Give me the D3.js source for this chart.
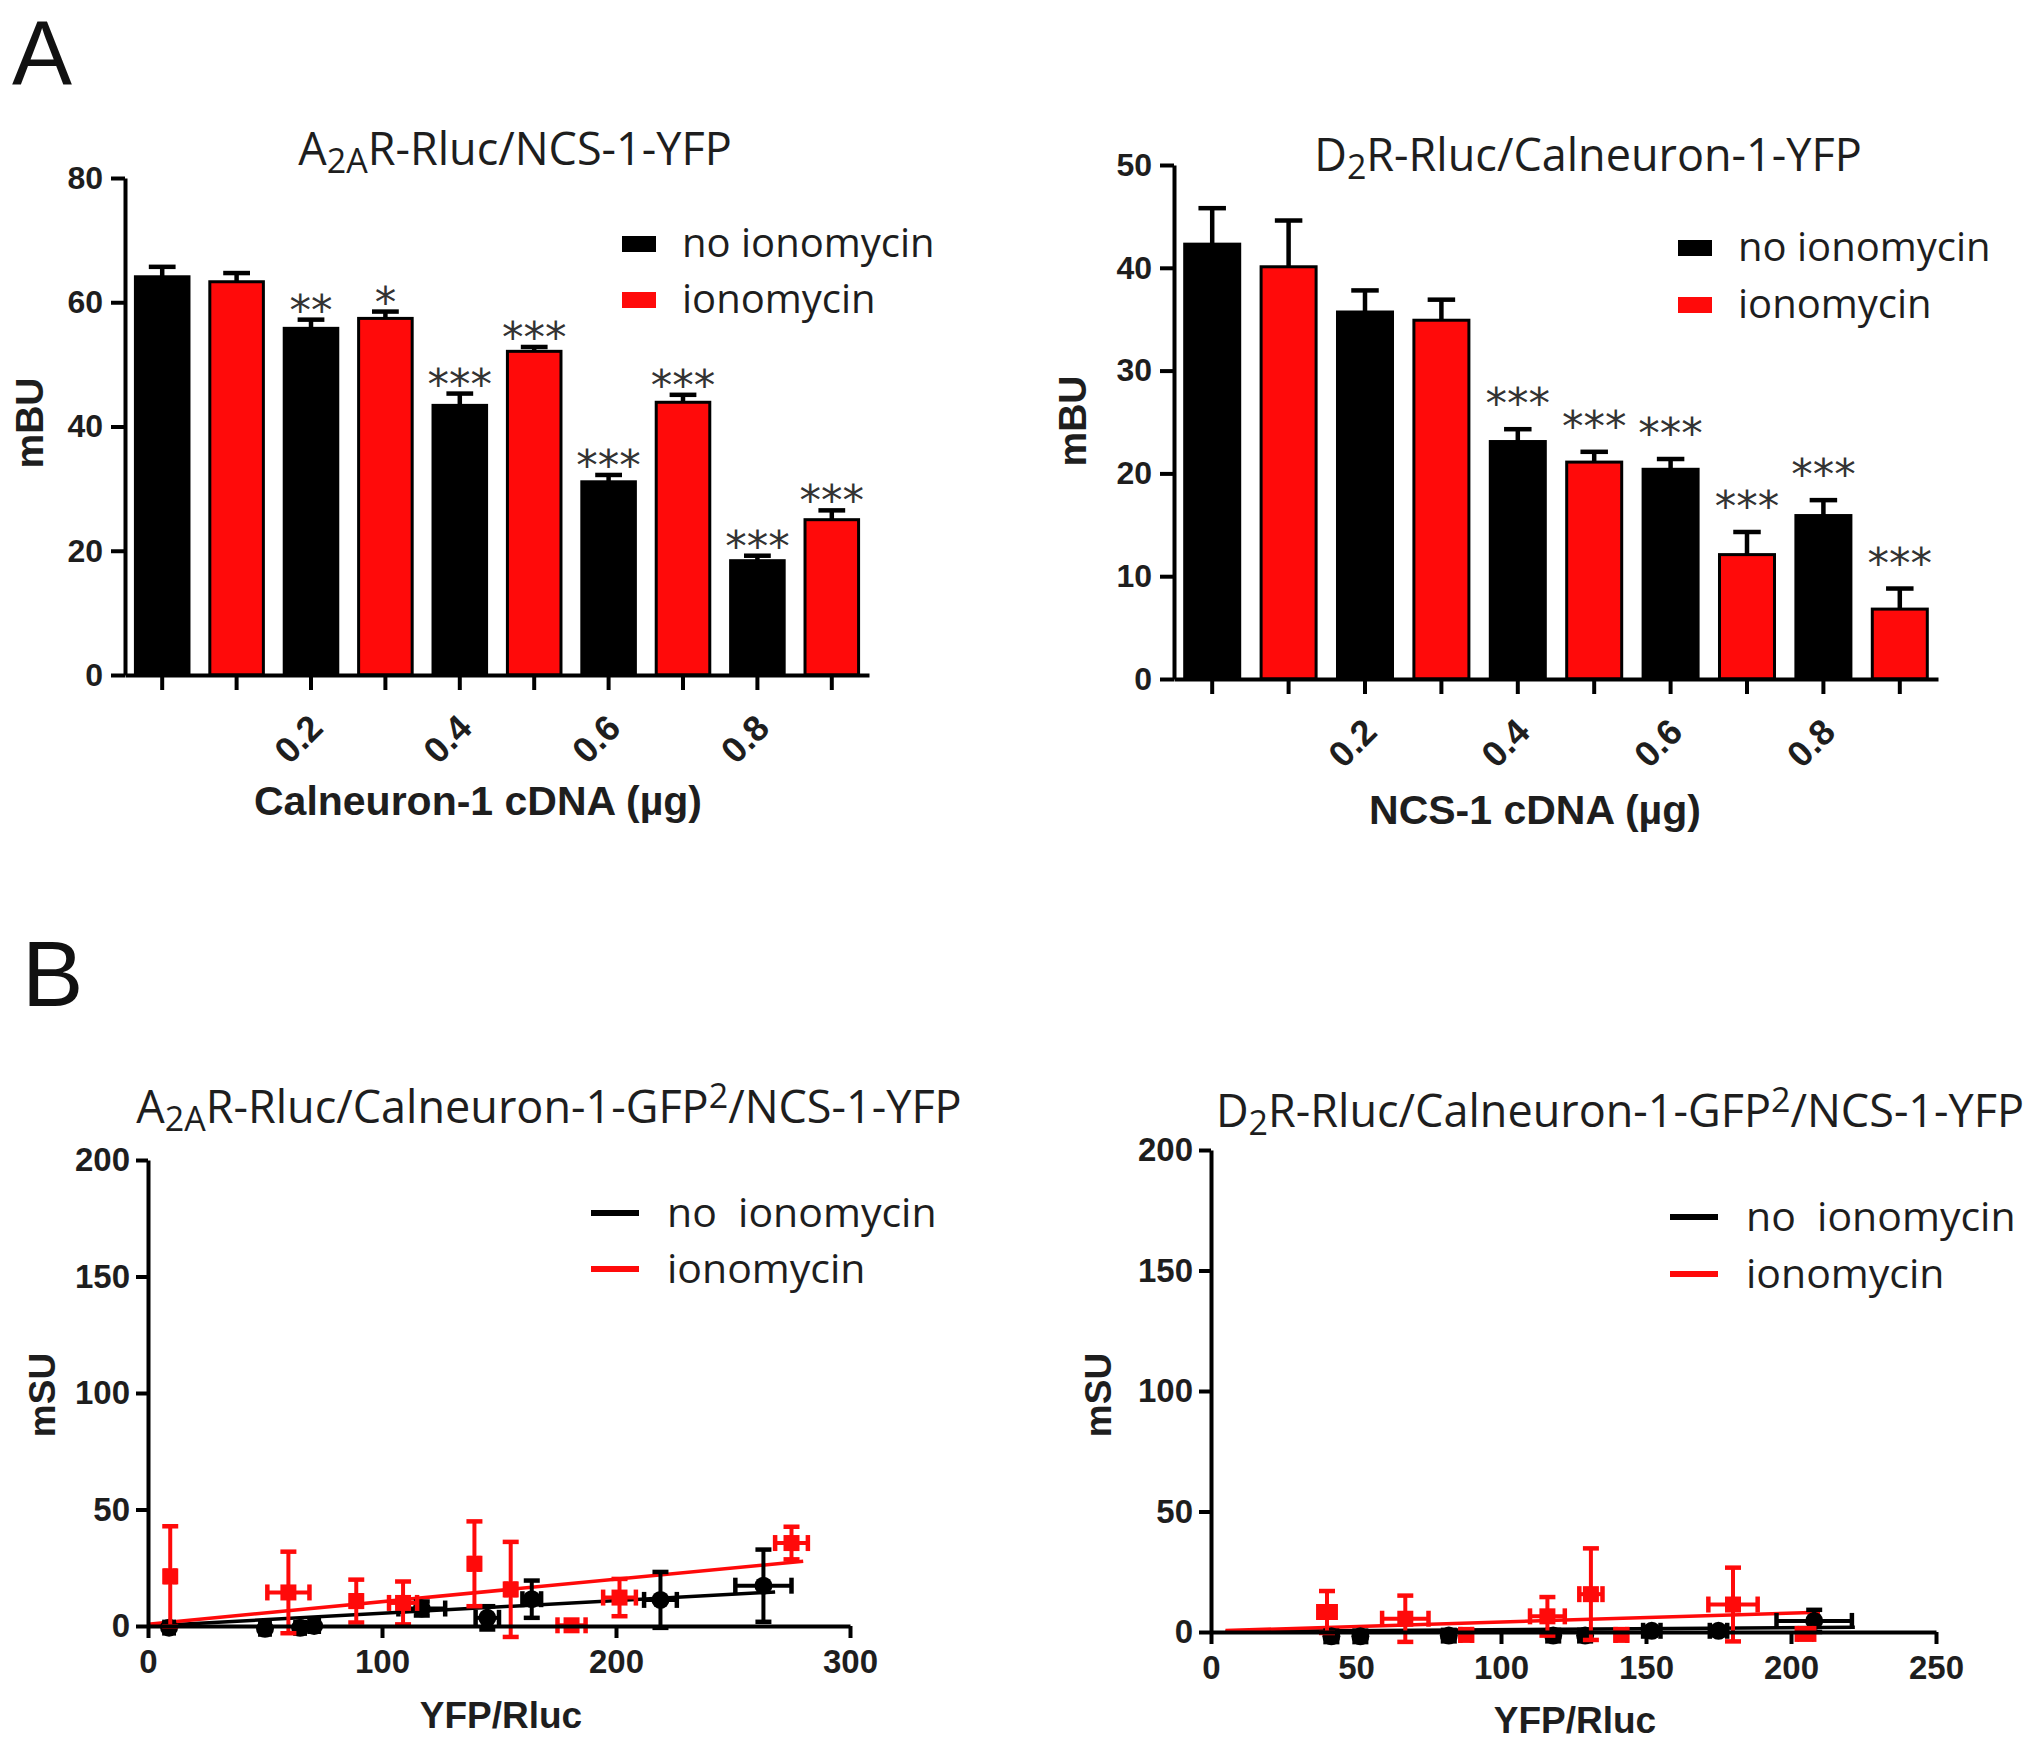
<!DOCTYPE html>
<html>
<head>
<meta charset="utf-8">
<script src="https://cdn.jsdelivr.net/npm/d3@7"></script>
<style>
  html, body { margin: 0; padding: 0; background: #ffffff; }
  svg { display: block; }
</style>
</head>
<body>
<svg id="chart" width="2040" height="1747"></svg>
<script>
// ---------------- DATA ----------------
// Panel A (bar charts): pairs per cDNA dose, first bar of pair = no ionomycin, second = ionomycin
const doseLabels = ["", "0.2", "0.4", "0.6", "0.8"];

// A2AR-Rluc / NCS-1-YFP vs Calneuron-1 cDNA
const a1NoIono      = [64.1, 55.8, 43.4, 31.1, 18.4];
const a1NoIonoErr   = [1.6, 1.4, 1.9, 1.1, 0.8];
const a1Iono        = [63.3, 57.4, 52.1, 43.9, 25.0];
const a1IonoErr     = [1.4, 1.1, 0.7, 1.2, 1.5];
const a1SigNoIono   = ["", "**", "***", "***", "***"];
const a1SigIono     = ["", "*", "***", "***", "***"];

// D2R-Rluc / Calneuron-1-YFP vs NCS-1 cDNA
const a2NoIono      = [42.3, 35.7, 23.1, 20.4, 15.9];
const a2NoIonoErr   = [3.5, 2.1, 1.2, 1.0, 1.5];
const a2Iono        = [40.1, 34.9, 21.1, 12.1, 6.8];
const a2IonoErr     = [4.5, 2.0, 1.0, 2.2, 2.0];
const a2SigNoIono   = ["", "", "***", "***", "***"];
const a2SigIono     = ["", "", "***", "***", "***"];

const a1YTicks = [0, 20, 40, 60, 80];
const a2YTicks = [0, 10, 20, 30, 40, 50];

// Panel B (BRET/SRET scatter): x = YFP/Rluc, y = mSU, with x and y SEM
// B1: A2AR-Rluc/Calneuron-1-GFP2/NCS-1-YFP
const b1NoX    = [9, 50, 65, 71, 117, 145, 164, 219, 263];
const b1NoY    = [-0.7, -1.2, -0.8, 0, 7.5, 3.5, 11.5, 11.2, 17.3];
const b1NoXErr = [2, 2, 2, 2, 10, 5, 4, 7, 12];
const b1NoYErr = [0, 0, 0, 0, 3, 5, 8, 12, 15.5];
const b1IoX    = [9.5, 60, 89, 109, 139.5, 155, 181, 201.5, 275];
const b1IoY    = [21.3, 14.4, 10.7, 9.9, 26.7, 15.7, 0.3, 12.2, 35.6];
const b1IoXErr = [2, 9, 2, 6, 2, 2, 6, 7, 7];
const b1IoYErr = [21.5, 17.5, 9.2, 9.2, 18.2, 20.4, 0, 8, 7];
const b1NoFit  = [[0, 0], [268, 14.6]];
const b1IoFit  = [[0, 0.8], [280, 27.8]];
const b1XTicks = [0, 100, 200, 300];

// B2: D2R-Rluc/Calneuron-1-GFP2/NCS-1-YFP
const b2NoX    = [41.5, 51.5, 82, 118, 129, 152, 175, 208];
const b2NoY    = [-1.8, -1.8, -1.5, -1.5, -1.5, 0.5, 0.5, 4.6];
const b2NoXErr = [2, 2, 2, 2, 2, 3, 3, 13];
const b2NoYErr = [0, 0, 0, 0, 0, 0, 0, 4.6];
const b2IoX    = [40, 67, 88, 116, 131, 141.5, 180, 205];
const b2IoY    = [8.3, 5.5, -1.2, 6.5, 15.7, -1.2, 11.4, -0.8];
const b2IoXErr = [3, 8, 2, 6, 4, 2, 8.5, 3];
const b2IoYErr = [8.7, 9.6, 0, 8, 19, 0, 15.3, 0];
const b2NoFit  = [[5, 0.2], [222, 2.0]];
const b2IoFit  = [[5, 0.6], [210, 8.2]];
const b2XTicks = [0, 50, 100, 150, 200, 250];

const bYTicks = [0, 50, 100, 150, 200];

const seriesNames = ["no ionomycin", "ionomycin"];
const seriesNamesB = ["no\u00a0 ionomycin", "ionomycin"];

// ---------------- STYLE ----------------
const RED = "#ff0a0a";
const BLACK = "#000000";
const TXT = "#1e1e1e";
const SANS_BOLD = "'Liberation Sans', Arial, sans-serif";
const SANS_LIGHT = "'Open Sans', 'Noto Sans', sans-serif";

const svg = d3.select("#chart");
svg.append("rect").attr("width", 2040).attr("height", 1747).attr("fill", "#ffffff");

// Panel letters
svg.append("text").attr("x", 12).attr("y", 84).text("A")
  .style("font-family", SANS_BOLD).style("font-size", "90px").attr("fill", "#111");
svg.append("text").attr("x", 22).attr("y", 1006).text("B")
  .style("font-family", SANS_BOLD).style("font-size", "92px").attr("fill", "#111");

// Title helper with sub/superscripts: parts = [[text, mode]]
function title(x, y, parts) {
  const t = svg.append("text").attr("x", x).attr("y", y)
    .attr("text-anchor", "middle")
    .style("font-family", SANS_LIGHT).style("font-size", "45px").attr("fill", TXT);
  let shift = 0;
  parts.forEach(([s, mode]) => {
    let target = mode === "sub" ? 8 : mode === "sup" ? -15 : 0;
    const ts = t.append("tspan").text(s).attr("dy", target - shift);
    if (mode) ts.style("font-size", "34px");
    shift = target;
  });
}

function yLabel(x, y, s, size) {
  svg.append("text").attr("transform", `translate(${x},${y}) rotate(-90)`)
    .attr("text-anchor", "middle").text(s)
    .style("font-family", SANS_BOLD).style("font-weight", "bold")
    .style("font-size", size + "px").attr("fill", TXT);
}
function xLabel(x, y, s, size) {
  svg.append("text").attr("x", x).attr("y", y).attr("text-anchor", "middle").text(s)
    .style("font-family", SANS_BOLD).style("font-weight", "bold")
    .style("font-size", size + "px").attr("fill", TXT);
}

function styleAxis(g, size) {
  g.select(".domain").attr("stroke", BLACK).attr("stroke-width", 4);
  g.selectAll(".tick line").attr("stroke", BLACK).attr("stroke-width", 4);
  g.selectAll(".tick text").style("font-family", SANS_BOLD).style("font-weight", "bold")
    .style("font-size", size + "px").attr("fill", TXT);
}

// ---------------- BAR PANELS ----------------
function barPanel(o) {
  const keys = [];
  const vals = [], errs = [], sigs = [], cols = [];
  o.no.forEach((v, i) => {
    keys.push("n" + i); vals.push(v); errs.push(o.noErr[i]); sigs.push(o.sigNo[i]); cols.push(BLACK);
    keys.push("i" + i); vals.push(o.ion[i]); errs.push(o.ionErr[i]); sigs.push(o.sigIon[i]); cols.push(RED);
  });
  const x = d3.scaleBand().domain(keys).range([o.x0, o.x1]).paddingInner(0.28).paddingOuter(0.14);
  const y = d3.scaleLinear().domain([0, o.yMax]).range([o.yBase, o.yTop]);
  const g = svg.append("g");

  g.selectAll("rect.bar").data(keys).join("rect").attr("class", "bar")
    .attr("x", k => x(k)).attr("width", x.bandwidth())
    .attr("y", (k, i) => y(vals[i])).attr("height", (k, i) => y(0) - y(vals[i]))
    .attr("fill", (k, i) => cols[i]).attr("stroke", BLACK).attr("stroke-width", 3);

  const cx = k => x(k) + x.bandwidth() / 2;
  const capW = x.bandwidth() * 0.5;
  g.selectAll("line.err").data(keys).join("line").attr("class", "err")
    .attr("x1", cx).attr("x2", cx)
    .attr("y1", (k, i) => y(vals[i])).attr("y2", (k, i) => y(vals[i] + errs[i]))
    .attr("stroke", BLACK).attr("stroke-width", 4.5);
  g.selectAll("line.cap").data(keys).join("line").attr("class", "cap")
    .attr("x1", k => cx(k) - capW / 2).attr("x2", k => cx(k) + capW / 2)
    .attr("y1", (k, i) => y(vals[i] + errs[i])).attr("y2", (k, i) => y(vals[i] + errs[i]))
    .attr("stroke", BLACK).attr("stroke-width", 4.5);

  g.selectAll("text.sig").data(keys).join("text").attr("class", "sig")
    .attr("x", cx).attr("y", (k, i) => y(vals[i] + errs[i]) + o.sigOff)
    .attr("text-anchor", "middle").text((k, i) => sigs[i])
    .style("font-family", "'DejaVu Sans', sans-serif").style("font-size", "43px").attr("fill", "#333");

  const ya = svg.append("g").attr("transform", `translate(${o.x0},0)`)
    .call(d3.axisLeft(y).tickValues(o.yTicks).tickSize(14).tickPadding(8).tickSizeOuter(0));
  styleAxis(ya, 32);
  const xa = svg.append("g").attr("transform", `translate(0,${o.yBase})`)
    .call(d3.axisBottom(x).tickSize(15).tickSizeOuter(0)
      .tickFormat(k => k[0] === "n" ? doseLabels[+k.slice(1)] : ""));
  styleAxis(xa, 36);
  xa.selectAll(".tick text").attr("x", 0).attr("y", 0).attr("dy", 0)
    .attr("transform", "translate(14,55) rotate(-45)").style("text-anchor", "end");

  seriesNames.forEach((s, i) => {
    const ly = o.legY + i * o.legGap;
    svg.append("rect").attr("x", o.legX).attr("y", ly - 8).attr("width", 34).attr("height", 16)
      .attr("fill", i ? RED : BLACK);
    svg.append("text").attr("x", o.legX + 60).attr("y", ly + 13).text(s)
      .style("font-family", SANS_LIGHT).style("font-size", "40px").attr("fill", TXT);
  });
}

barPanel({
  x0: 125, x1: 869, yBase: 675, yTop: 178, yMax: 80, yTicks: a1YTicks,
  no: a1NoIono, noErr: a1NoIonoErr, ion: a1Iono, ionErr: a1IonoErr,
  sigNo: a1SigNoIono, sigIon: a1SigIono, sigOff: 5,
  legX: 622, legY: 244, legGap: 56
});
barPanel({
  x0: 1174, x1: 1938, yBase: 679, yTop: 165, yMax: 50, yTicks: a2YTicks,
  no: a2NoIono, noErr: a2NoIonoErr, ion: a2Iono, ionErr: a2IonoErr,
  sigNo: a2SigNoIono, sigIon: a2SigIono, sigOff: -11,
  legX: 1678, legY: 248, legGap: 57
});

title(515, 165, [["A", null], ["2A", "sub"], ["R-Rluc/NCS-1-YFP", null]]);
title(1588, 171, [["D", null], ["2", "sub"], ["R-Rluc/Calneuron-1-YFP", null]]);
yLabel(43, 423, "mBU", 39);
yLabel(1086, 421, "mBU", 39);
xLabel(478, 815, "Calneuron-1 cDNA (\u00b5g)", 41);
xLabel(1535, 824, "NCS-1 cDNA (\u00b5g)", 41);

// ---------------- SCATTER PANELS ----------------
function scatterPanel(o) {
  const x = d3.scaleLinear().domain([0, o.xMax]).range([o.x0, o.x1]);
  const y = d3.scaleLinear().domain([0, 200]).range([o.yBase, o.yTop]);
  const g = svg.append("g");

  const ya = svg.append("g").attr("transform", `translate(${o.x0},0)`)
    .call(d3.axisLeft(y).tickValues(bYTicks).tickSize(12).tickPadding(6).tickSizeOuter(0));
  styleAxis(ya, 33);
  const xa = svg.append("g").attr("transform", `translate(0,${o.yBase})`)
    .call(d3.axisBottom(x).tickValues(o.xTicks).tickSize(12).tickPadding(12).tickSizeOuter(0));
  styleAxis(xa, 33);

  const series = [
    { X: o.noX, Y: o.noY, XE: o.noXErr, YE: o.noYErr, fit: o.noFit, col: BLACK },
    { X: o.ioX, Y: o.ioY, XE: o.ioXErr, YE: o.ioYErr, fit: o.ioFit, col: RED }
  ];
  series.forEach(s => {
    g.append("line").attr("x1", x(s.fit[0][0])).attr("y1", y(s.fit[0][1]))
      .attr("x2", x(s.fit[1][0])).attr("y2", y(s.fit[1][1]))
      .attr("stroke", s.col).attr("stroke-width", 3.5);
  });
  series.forEach(s => {
    const idx = d3.range(s.X.length);
    const cap = 8;
    idx.forEach(i => {
      const px = x(s.X[i]), py = y(s.Y[i]);
      if (s.YE[i] > 0) {
        const t = y(s.Y[i] + s.YE[i]), b = y(s.Y[i] - s.YE[i]);
        g.append("line").attr("x1", px).attr("x2", px).attr("y1", t).attr("y2", b)
          .attr("stroke", s.col).attr("stroke-width", 4);
        [t, b].forEach(yy => g.append("line").attr("x1", px - cap).attr("x2", px + cap)
          .attr("y1", yy).attr("y2", yy).attr("stroke", s.col).attr("stroke-width", 4.5));
      }
      if (s.XE[i] > 0) {
        const l = x(s.X[i] - s.XE[i]), r = x(s.X[i] + s.XE[i]);
        g.append("line").attr("x1", l).attr("x2", r).attr("y1", py).attr("y2", py)
          .attr("stroke", s.col).attr("stroke-width", 4);
        [l, r].forEach(xx => g.append("line").attr("x1", xx).attr("x2", xx)
          .attr("y1", py - cap).attr("y2", py + cap).attr("stroke", s.col).attr("stroke-width", 4.5));
      }
    });
    if (s.col === BLACK) {
      g.selectAll(null).data(idx).join("circle")
        .attr("cx", i => x(s.X[i])).attr("cy", i => y(s.Y[i])).attr("r", 9).attr("fill", s.col);
    } else {
      g.selectAll(null).data(idx).join("rect")
        .attr("x", i => x(s.X[i]) - 8).attr("y", i => y(s.Y[i]) - 8)
        .attr("width", 16).attr("height", 16).attr("fill", s.col);
    }
  });

  seriesNamesB.forEach((s, i) => {
    const ly = o.legY + i * o.legGap;
    svg.append("line").attr("x1", o.legX).attr("x2", o.legX + 48).attr("y1", ly).attr("y2", ly)
      .attr("stroke", i ? RED : BLACK).attr("stroke-width", 6);
    svg.append("text").attr("x", o.legX + 76).attr("y", ly + 14).text(s)
      .style("font-family", SANS_LIGHT).style("font-size", "41px").attr("fill", TXT);
  });
}

scatterPanel({
  x0: 148, x1: 850, yBase: 1626, yTop: 1160, xMax: 300, xTicks: b1XTicks,
  noX: b1NoX, noY: b1NoY, noXErr: b1NoXErr, noYErr: b1NoYErr, noFit: b1NoFit,
  ioX: b1IoX, ioY: b1IoY, ioXErr: b1IoXErr, ioYErr: b1IoYErr, ioFit: b1IoFit,
  legX: 591, legY: 1213, legGap: 56
});
scatterPanel({
  x0: 1211, x1: 1936, yBase: 1632, yTop: 1150, xMax: 250, xTicks: b2XTicks,
  noX: b2NoX, noY: b2NoY, noXErr: b2NoXErr, noYErr: b2NoYErr, noFit: b2NoFit,
  ioX: b2IoX, ioY: b2IoY, ioXErr: b2IoXErr, ioYErr: b2IoYErr, ioFit: b2IoFit,
  legX: 1670, legY: 1217, legGap: 57
});

title(549, 1123, [["A", null], ["2A", "sub"], ["R-Rluc/Calneuron-1-GFP", null], ["2", "sup"], ["/NCS-1-YFP", null]]);
title(1620, 1127, [["D", null], ["2", "sub"], ["R-Rluc/Calneuron-1-GFP", null], ["2", "sup"], ["/NCS-1-YFP", null]]);
yLabel(55, 1395, "mSU", 37);
yLabel(1111, 1395, "mSU", 37);
xLabel(501, 1728, "YFP/Rluc", 37);
xLabel(1575, 1733, "YFP/Rluc", 37);
</script>
</body>
</html>
